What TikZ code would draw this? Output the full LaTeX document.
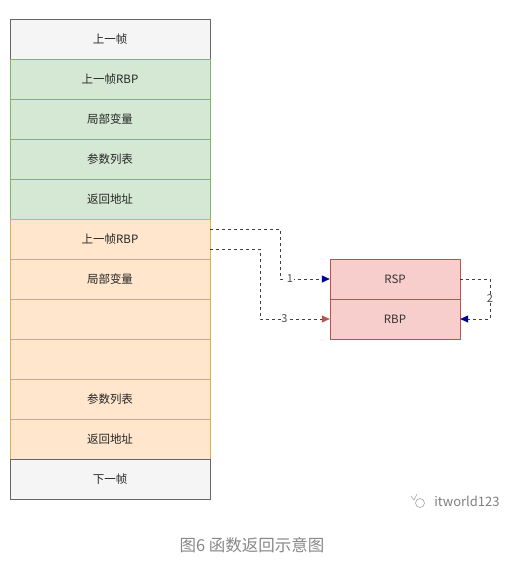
\documentclass[tikz,border=0pt]{standalone}
\usepackage{fontspec}
\setmainfont{Noto Sans CJK SC}
\usetikzlibrary{arrows.meta}
\definecolor{grayfill}{HTML}{F5F5F5}
\definecolor{grayline}{HTML}{666666}
\definecolor{greenfill}{HTML}{D5E8D4}
\definecolor{greenline}{HTML}{82B366}
\definecolor{orangefill}{HTML}{FFE6CC}
\definecolor{orangeline}{HTML}{D6B24A}
\definecolor{redfill}{HTML}{F8CECC}
\definecolor{redline}{HTML}{B85450}
\definecolor{bluetip}{HTML}{000099}
\definecolor{captiongray}{HTML}{888888}
\tikzset{
  cell/.style={minimum width=200pt, minimum height=40pt, inner sep=0pt, font=\fontsize{11.5}{13}\selectfont, text=black!85},
  graycell/.style={cell, fill=grayfill, draw=grayline},
  greencell/.style={cell, fill=greenfill, draw=greenline},
  orangecell/.style={cell, fill=orangefill, draw=orangeline},
  regcell/.style={minimum width=130pt, minimum height=40pt, inner sep=0pt, fill=redfill, draw=redline, font=\fontsize{11.5}{13}\selectfont, text=black!80},
  link/.style={draw=black!75, dashed, line width=0.7pt},
  bluearrow/.style={link, arrows={-{Triangle[length=8pt,width=7pt,color=bluetip]}}},
  redarrow/.style={link, arrows={-{Triangle[length=8pt,width=7pt,color=redline]}}},
  lab/.style={fill=white, inner sep=0.5pt, font=\fontsize{11}{12}\selectfont, text=black!70}
}
\begin{document}
\begin{tikzpicture}[x=1pt,y=-1pt]
\useasboundingbox (0,0) rectangle (508,566);
\fill[white] (0,0) rectangle (508,566);
\node[graycell]   (r0)  at (110,39)  {上一帧};
\node[greencell]  (r1)  at (110,79)  {上一帧RBP};
\node[greencell]  (r2)  at (110,119) {局部变量};
\node[greencell]  (r3)  at (110,159) {参数列表};
\node[greencell]  (r4)  at (110,199) {返回地址};
\node[orangecell] (r5)  at (110,239) {上一帧RBP};
\node[orangecell] (r6)  at (110,279) {局部变量};
\node[orangecell] (r7)  at (110,319) {};
\node[orangecell] (r8)  at (110,359) {};
\node[orangecell] (r9)  at (110,399) {参数列表};
\node[orangecell] (r10) at (110,439) {返回地址};
\node[graycell]   (r11) at (110,479) {下一帧};
\node[regcell] (rsp) at (395,279) {RSP};
\node[regcell] (rbp) at (395,319) {RBP};
\coordinate (a1) at (210,229);
\coordinate (a3) at (210,249);
\draw[bluearrow] (a1) -| (280,279) -- node[lab, pos=0.2] {1} (rsp.west);
\draw[redarrow] (a3) -| (260,319) -- node[lab, pos=0.35] {3} (rbp.west);
\draw[bluearrow] (rsp.east) -| (490,299) node[lab] {2} |- (rbp.east);
\node[font=\fontsize{13}{15}\selectfont, text=black!50] (wm) at (467,501) {itworld123};
\node[draw=black!35, circle, minimum size=9pt, inner sep=0pt, line width=0.6pt] (icon) at (420,503) {};
\draw[black!35, line width=0.6pt] (411,496) -- (414,500) -- (417,494);
\node[font=\fontsize{16.5}{19}\selectfont, text=captiongray] (cap) at (252,545) {图6 函数返回示意图};
\end{tikzpicture}
\end{document}
